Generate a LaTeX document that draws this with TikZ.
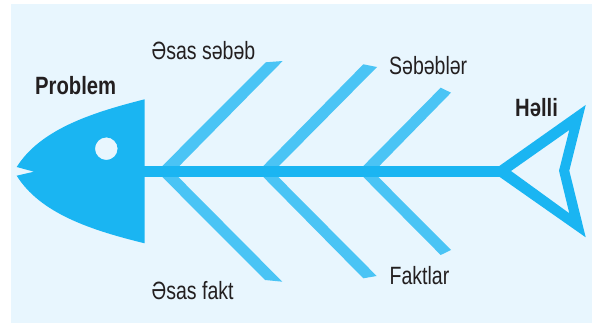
\documentclass[tikz,border=0pt]{standalone}
\usepackage{fontspec}
\setmainfont{Liberation Sans}[FakeStretch=0.78,BoldFeatures={FakeStretch=0.81}]
\definecolor{bgc}{HTML}{E8F6FE}
\definecolor{fishc}{HTML}{1AB5F2}
\definecolor{bonec}{HTML}{4AC4F5}
\definecolor{txtc}{HTML}{231F20}
\tikzset{
  bone/.style={fill=bonec,draw=none},
  body/.style={fill=fishc,draw=none},
  lbl/.style={text=txtc,font=\fontsize{25}{28}\selectfont,inner sep=0pt,anchor=base west},
  lblb/.style={lbl,font=\fontsize{25}{28}\selectfont\bfseries}
}
\begin{document}
\begin{tikzpicture}[x=1pt,y=-1pt]
\useasboundingbox (0,0) rectangle (592,323);
\fill[white] (0,0) rectangle (592,323);
\fill[bgc] (11,4) rectangle (592,323);
% bones
\fill[bone] (162.3,166) -- (265.7,62.3) -- (282.7,61) -- (179.3,166) -- cycle;
\fill[bone] (263.3,166) -- (363.3,64.3) -- (377,67) -- (279,166) -- cycle;
\fill[bone] (363.3,166) -- (440.7,87.7) -- (451,92.7) -- (379.3,166) -- cycle;
\fill[bone] (162.3,177) -- (265,280) -- (282.3,281.7) -- (178.3,177) -- cycle;
\fill[bone] (263.3,177) -- (363.3,278.3) -- (376.7,276) -- (278.3,177) -- cycle;
\fill[bone] (363.3,177) -- (440.7,255) -- (451,250) -- (378.3,177) -- cycle;
% head
\fill[body,even odd rule] (144.7,99.3) -- (144.7,243.3)
  .. controls (90,230) and (40,213) .. (16.7,175.7)
  -- (34,171.7) -- (16.7,167)
  .. controls (40,130) and (90,113) .. (144.7,99.3) -- cycle
  (117.6,148.7) arc[start angle=0,end angle=360,radius=11.3];
% spine
\fill[body] (144,165.7) rectangle (505,177);
% tail
\fill[body,even odd rule] (499.3,166) -- (585.7,105) -- (569.3,170.7) -- (585.7,237.3) -- (499.3,176.7) -- cycle
  (511,171) -- (569.3,130) -- (559,170.7) -- (569.3,213.3) -- cycle;
% labels
\node[lblb] (problem) at (35,95) {Problem};
\node[lblb] (helli) at (515,116.7) {Həlli};
\node[lbl] (sebeb) at (151.5,60) {Əsas səbəb};
\node[lbl] (sebebler) at (389,75) {Səbəblər};
\node[lbl] (fakt) at (151.5,299.3) {Əsas fakt};
\node[lbl] (faktlar) at (389.5,284) {Faktlar};
\end{tikzpicture}
\end{document}
